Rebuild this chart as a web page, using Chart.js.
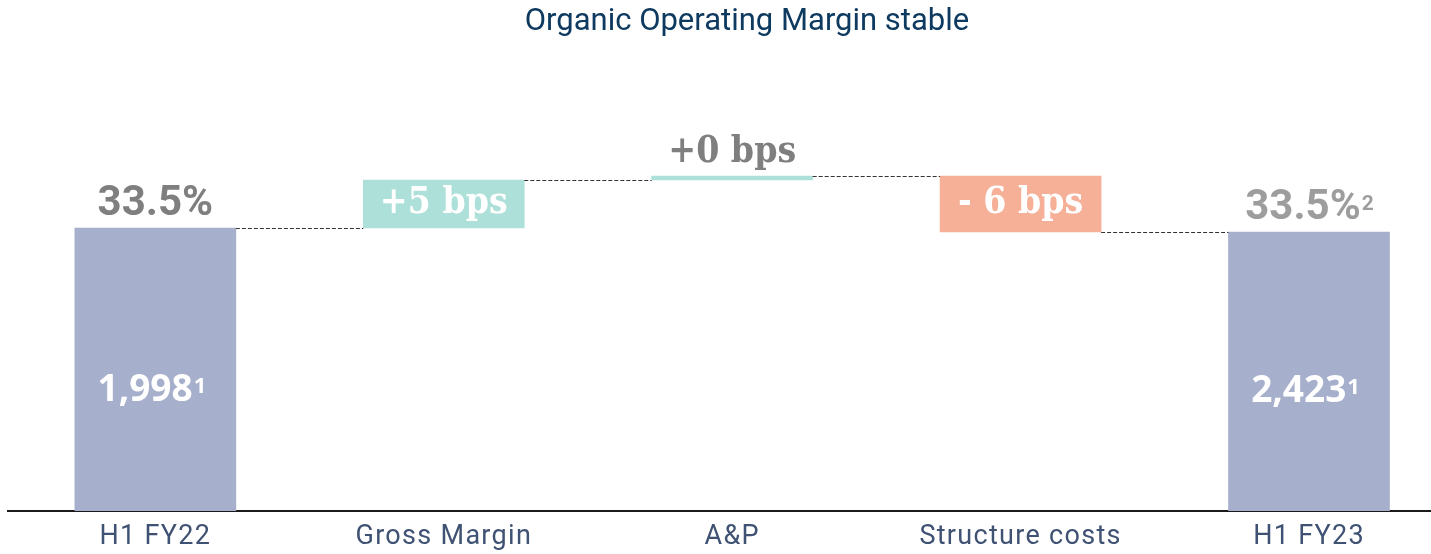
<!DOCTYPE html>
<html><head><meta charset="utf-8">
<script src="https://cdn.jsdelivr.net/npm/chart.js@4.4.1/dist/chart.umd.min.js"></script>
<style>html,body{margin:0;padding:0;background:#fff;overflow:hidden}#wrap{width:1431px;height:554px;position:relative}</style>
</head><body><div id="wrap"><canvas id="c" width="1431" height="554"></canvas></div>
<script>
const titleText = 'Organic Operating Margin stable';
const categories = ['H1 FY22', 'Gross Margin', 'A&P', 'Structure costs', 'H1 FY23'];
// visual (illustrative) extents of the waterfall steps
const barStart = [0, 28.3, 33.1, 33.5, 0];
const barEnd = [28.3, 33.1, 33.5, 27.9, 27.9];
const barColors = ['#a6afcb', '#aee0da', '#aee0da', '#f5b097', '#a6afcb'];
const stepLabels = ['33.5%', '+5 bps', '+0 bps', '- 6 bps', '33.5%'];
const stepSup = ['', '', '', '', '2'];
const valueLabels = ['1,998', '', '', '', '2,423'];
const valueSup = ['1', '', '', '', '1'];
const isTotal = [true, false, false, false, true];

const SERIF = "bold 37px 'DejaVu Serif Condensed', 'DejaVu Serif', serif";

function drawWithSup(ctx, main, sup, cx, baseline, mainFont, supFont, raise, color) {
  ctx.font = mainFont;
  const w1 = ctx.measureText(main).width;
  ctx.font = supFont;
  const w2 = sup ? ctx.measureText(sup).width : 0;
  const x0 = cx - (w1 + w2) / 2;
  ctx.fillStyle = color;
  ctx.textAlign = 'left';
  ctx.textBaseline = 'alphabetic';
  ctx.font = mainFont;
  ctx.fillText(main, x0, baseline);
  if (sup) {
    ctx.font = supFont;
    ctx.fillText(sup, x0 + w1 + 1, baseline - raise);
  }
}

const overlay = {
  id: 'overlay',
  beforeDraw(chart) {
    // slight tracking for the category labels
    chart.ctx.letterSpacing = '1.3px';
  },
  beforeDatasetsDraw(chart) {
    chart.ctx.letterSpacing = '0px';
  },
  afterDatasetsDraw(chart) {
    const ctx = chart.ctx;
    const meta = chart.getDatasetMeta(0);
    const ys = chart.scales.y;
    ctx.save();
    ctx.letterSpacing = '0px';
    // title
    ctx.font = "31px Roboto";
    ctx.fillStyle = '#0e3a60';
    ctx.textAlign = 'center';
    ctx.textBaseline = 'alphabetic';
    ctx.fillText(titleText, 747, 30);
    // connectors
    ctx.strokeStyle = '#333';
    ctx.lineWidth = 1;
    ctx.setLineDash([4, 2]);
    for (let i = 0; i < categories.length - 1; i++) {
      const a = meta.data[i], b = meta.data[i + 1];
      const y = Math.round(ys.getPixelForValue(barEnd[i])) + 0.5;
      ctx.beginPath();
      ctx.moveTo(a.x + a.width / 2, y);
      ctx.lineTo(b.x - b.width / 2, y);
      ctx.stroke();
    }
    ctx.setLineDash([]);
    // labels
    for (let i = 0; i < categories.length; i++) {
      const el = meta.data[i];
      const p1 = ys.getPixelForValue(barStart[i]);
      const p2 = ys.getPixelForValue(barEnd[i]);
      const top = Math.min(p1, p2), bottom = Math.max(p1, p2);
      const h = bottom - top;
      if (isTotal[i]) {
        const col = i === 0 ? '#7f7f7f' : '#9d9d9d';
        drawWithSup(ctx, stepLabels[i], stepSup[i], el.x, top - 13, "bold 42px Roboto", "bold 21px Roboto", 9, col);
        if (valueLabels[i]) {
          drawWithSup(ctx, valueLabels[i], valueSup[i], el.x - 4, bottom - 0.39 * h, "bold 37px 'Open Sans'", "bold 22px 'Open Sans'", 8, '#ffffff');
        }
      } else if (h < 20) {
        drawWithSup(ctx, stepLabels[i], '', el.x, top - 14, SERIF, SERIF, 0, '#7f7f7f');
      } else {
        drawWithSup(ctx, stepLabels[i], '', el.x, (top + bottom) / 2 + 9, SERIF, SERIF, 0, '#ffffff');
      }
    }
    ctx.restore();
  }
};

new Chart(document.getElementById('c'), {
  type: 'bar',
  data: {
    datasets: [{
      data: categories.map((c, i) => ({ x: i, y: [barStart[i], barEnd[i]] })),
      backgroundColor: barColors,
      borderWidth: 0,
      borderSkipped: false,
      barThickness: 161
    }]
  },
  options: {
    responsive: false,
    animation: false,
    events: [],
    layout: { padding: { top: 61, left: 8, right: 0, bottom: 0 } },
    plugins: { legend: { display: false }, title: { display: false }, tooltip: { enabled: false } },
    scales: {
      x: {
        type: 'linear',
        offset: false,
        min: -0.511,
        max: 4.423,
        grid: { display: false, drawTicks: false, offset: false },
        border: { display: true, color: '#1a1a1a', width: 2 },
        afterBuildTicks: s => { s.ticks = categories.map((c, i) => ({ value: i })); },
        afterFit: s => { s.height = 43; },
        ticks: {
          autoSkip: false,
          maxRotation: 0,
          padding: 10,
          color: '#3f5273',
          font: { family: 'Roboto', size: 27 },
          callback: v => categories[v] !== undefined ? categories[v] : ''
        }
      },
      y: { display: false, min: 0, max: 45 }
    }
  },
  plugins: [overlay]
});
</script>
</body></html>
